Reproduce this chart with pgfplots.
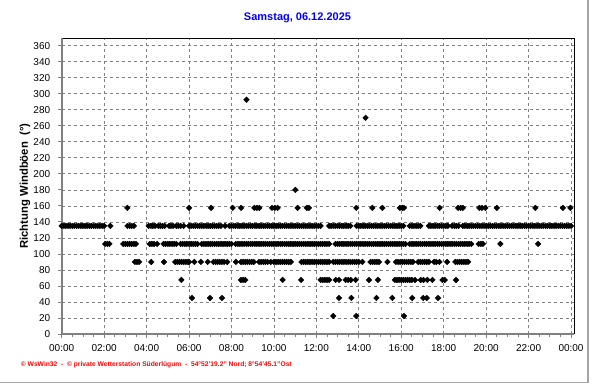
\documentclass[border=0pt]{standalone}
\usepackage{fontspec}
\setmainfont{Liberation Sans}
\usepackage{pgfplots}
\pgfplotsset{compat=1.18}
\definecolor{gridgray}{RGB}{128,128,128}
\definecolor{titleblue}{RGB}{0,0,255}
\pgfplotsset{wpt/.style={black, only marks, mark=square*, mark size=2pt, mark options={rotate=45, fill=black, draw=black}}}
\begin{document}
\begin{tikzpicture}
\useasboundingbox (-61.7pt,-50pt) rectangle (530.3pt,334pt);
\begin{axis}[
  at={(0,0)}, anchor=south west,
  scale only axis, width=512.6pt, height=295.7pt,
  xmin=0, xmax=24.155, ymin=0, ymax=369.25,
  clip=false,
  axis line style={draw=none},
  xtick={0,2,...,24},
  xticklabels={00:00,02:00,04:00,06:00,08:00,10:00,12:00,14:00,16:00,18:00,20:00,22:00,00:00},
  minor x tick num=3,
  ytick={0,20,...,360},
  xtick pos=bottom, ytick pos=left,
  tick align=outside,
  major tick length=4pt, minor tick length=3pt,
  tick style={gridgray, line width=0.8pt},
  grid=major,
  grid style={gridgray, line width=0.7pt, dash pattern=on 3pt off 3pt},
  /pgf/number format/assume math mode=true,
  ticklabel style={font=\fontsize{10}{12}\selectfont},
  xticklabel style={yshift=-3pt},
  yticklabel style={xshift=-4pt},
  title={Samstag, 06.12.2025},
  title style={at={(axis description cs:0.46,1)}, anchor=center, yshift=14.3pt, font=\fontsize{11}{13}\selectfont\bfseries, text=titleblue},
  ylabel={Richtung Windböen\ \ (°)},
  ylabel style={at={(axis description cs:-0.0716,0.5)}, anchor=center, font=\fontsize{11.3}{13}\selectfont\bfseries},
]
% 135
\addplot[wpt] coordinates {(0,135)(0.1,135)(0.2,135)(0.3,135)(0.4,135)(0.5,135)(0.6,135)(0.7,135)(0.8,135)(0.9,135)(1.0,135)(1.1,135)(1.2,135)(1.3,135)(1.4,135)(1.5,135)(1.6,135)(1.7,135)(1.8,135)(1.9,135)(2.0,135)
(2.29,135)(3.1,135)(3.2,135)(3.3,135)(3.4,135)
(4.1,135)(4.2,135)(4.3,135)(4.4,135)(4.55,135)(4.65,135)(4.75,135)(4.85,135)
(5.06,135)(5.15,135)(5.25,135)(5.4,135)(5.5,135)(5.6,135)(5.75,135)
(6.0,135)(6.1,135)(6.2,135)(6.3,135)(6.4,135)(6.5,135)(6.6,135)(6.7,135)(6.8,135)(6.9,135)(7.0,135)(7.1,135)(7.2,135)(7.3,135)(7.4,135)(7.5,135)(7.7,135)
(7.9,135)(8.0,135)(8.1,135)(8.2,135)(8.3,135)(8.4,135)(8.5,135)(8.6,135)(8.7,135)(8.8,135)(8.9,135)(9.0,135)(9.1,135)(9.2,135)(9.3,135)(9.4,135)(9.5,135)(9.6,135)(9.7,135)(9.8,135)(9.9,135)
(10.0,135)(10.1,135)(10.2,135)(10.3,135)(10.4,135)(10.5,135)(10.6,135)(10.7,135)(10.8,135)(10.9,135)(11.0,135)(11.1,135)(11.2,135)(11.3,135)(11.4,135)(11.5,135)(11.6,135)(11.7,135)(11.8,135)(11.9,135)(12.0,135)(12.1,135)(12.2,135)
(12.6,135)(12.7,135)(12.8,135)(12.9,135)(13.0,135)(13.1,135)(13.2,135)(13.3,135)(13.4,135)(13.5,135)(13.6,135)
(13.9,135)(14.0,135)(14.1,135)(14.2,135)(14.3,135)(14.4,135)(14.5,135)(14.6,135)(14.7,135)(14.8,135)(14.9,135)(15.0,135)(15.1,135)(15.2,135)(15.3,135)(15.4,135)(15.5,135)(15.6,135)(15.7,135)(15.8,135)(15.9,135)(16.0,135)(16.1,135)
(16.4,135)(16.5,135)(16.6,135)(16.7,135)(16.8,135)(16.9,135)
(17.3,135)(17.4,135)(17.5,135)(17.6,135)(17.7,135)(17.8,135)(17.9,135)(18.0,135)(18.1,135)(18.2,135)
(18.4,135)(18.5,135)(18.6,135)(18.7,135)
(18.9,135)(19.0,135)(19.1,135)(19.2,135)(19.3,135)(19.4,135)(19.5,135)(19.6,135)(19.7,135)(19.8,135)(19.9,135)(20.0,135)(20.1,135)(20.2,135)(20.3,135)(20.4,135)(20.5,135)(20.6,135)(20.7,135)(20.8,135)(20.9,135)(21.0,135)(21.1,135)(21.2,135)(21.3,135)(21.4,135)(21.5,135)(21.6,135)(21.7,135)(21.8,135)(21.9,135)(22.0,135)(22.1,135)(22.2,135)(22.3,135)(22.4,135)(22.5,135)(22.6,135)(22.7,135)(22.8,135)(22.9,135)(23.0,135)(23.1,135)(23.2,135)(23.3,135)(23.4,135)(23.5,135)(23.6,135)(23.7,135)(23.8,135)(23.9,135)(24.0,135)};
% 157.5
\addplot[wpt] coordinates {(3.09,157.5)(6.0,157.5)(7.04,157.5)(8.06,157.5)(8.45,157.5)(9.08,157.5)(9.2,157.5)(9.31,157.5)(9.91,157.5)(10.05,157.5)(10.18,157.5)(11.12,157.5)(11.55,157.5)(11.65,157.5)(13.88,157.5)(14.64,157.5)(15.11,157.5)(15.94,157.5)(16.05,157.5)(16.13,157.5)(17.81,157.5)(18.68,157.5)(18.8,157.5)(18.9,157.5)(19.68,157.5)(19.8,157.5)(19.96,157.5)(20.51,157.5)(22.32,157.5)(23.62,157.5)(23.97,157.5)};
% 180, 270, 292.5
\addplot[wpt] coordinates {(11.01,180)(14.32,270)(8.71,292.5)};
% 112.5
\addplot[wpt] coordinates {(2.05,112.5)(2.15,112.5)(2.25,112.5)
(2.9,112.5)(3.0,112.5)(3.1,112.5)(3.2,112.5)(3.3,112.5)(3.4,112.5)(3.5,112.5)
(4.15,112.5)(4.25,112.5)(4.35,112.5)(4.5,112.5)
(4.8,112.5)(4.9,112.5)(5.0,112.5)(5.1,112.5)(5.2,112.5)(5.3,112.5)(5.4,112.5)
(5.6,112.5)(5.7,112.5)(5.8,112.5)(5.9,112.5)(6.0,112.5)(6.1,112.5)(6.2,112.5)(6.3,112.5)(6.4,112.5)
(6.6,112.5)(6.7,112.5)(6.8,112.5)(6.9,112.5)(7.0,112.5)(7.1,112.5)(7.2,112.5)(7.3,112.5)(7.4,112.5)(7.5,112.5)(7.6,112.5)(7.7,112.5)(7.8,112.5)(7.9,112.5)(8.0,112.5)
(8.2,112.5)(8.3,112.5)(8.4,112.5)(8.5,112.5)(8.6,112.5)(8.7,112.5)(8.8,112.5)(8.9,112.5)(9.0,112.5)(9.1,112.5)(9.2,112.5)(9.3,112.5)(9.4,112.5)(9.5,112.5)(9.6,112.5)(9.7,112.5)(9.8,112.5)(9.9,112.5)
(10.0,112.5)(10.1,112.5)(10.2,112.5)(10.3,112.5)(10.4,112.5)(10.5,112.5)(10.6,112.5)(10.7,112.5)(10.8,112.5)(10.9,112.5)(11.0,112.5)(11.1,112.5)(11.2,112.5)(11.3,112.5)(11.4,112.5)(11.5,112.5)(11.6,112.5)(11.7,112.5)(11.8,112.5)(11.9,112.5)(12.0,112.5)(12.1,112.5)(12.2,112.5)(12.3,112.5)(12.4,112.5)(12.5,112.5)(12.6,112.5)
(12.9,112.5)(13.0,112.5)(13.1,112.5)(13.2,112.5)(13.3,112.5)(13.4,112.5)(13.5,112.5)(13.6,112.5)(13.7,112.5)(13.8,112.5)(13.9,112.5)(14.0,112.5)(14.1,112.5)(14.2,112.5)(14.3,112.5)(14.4,112.5)(14.5,112.5)(14.6,112.5)(14.7,112.5)(14.8,112.5)(14.9,112.5)(15.0,112.5)(15.1,112.5)(15.2,112.5)(15.3,112.5)(15.4,112.5)(15.5,112.5)(15.6,112.5)(15.7,112.5)(15.8,112.5)(15.9,112.5)(16.0,112.5)(16.1,112.5)(16.2,112.5)
(16.4,112.5)(16.5,112.5)(16.6,112.5)(16.7,112.5)(16.8,112.5)(16.9,112.5)(17.0,112.5)(17.1,112.5)(17.2,112.5)(17.3,112.5)(17.4,112.5)(17.5,112.5)(17.6,112.5)(17.7,112.5)(17.8,112.5)(17.9,112.5)(18.0,112.5)(18.1,112.5)(18.2,112.5)(18.3,112.5)(18.4,112.5)(18.5,112.5)(18.6,112.5)(18.7,112.5)(18.8,112.5)(18.9,112.5)(19.0,112.5)(19.1,112.5)(19.2,112.5)(19.3,112.5)
(19.65,112.5)(19.75,112.5)(19.85,112.5)(20.67,112.5)(22.45,112.5)};
% 90
\addplot[wpt] coordinates {(3.45,90)(3.55,90)(3.65,90)(4.22,90)(4.82,90)
(5.35,90)(5.45,90)(5.55,90)(5.65,90)(5.75,90)(5.85,90)(5.95,90)(6.0,90)(6.25,90)(6.56,90)(6.88,90)
(7.15,90)(7.25,90)(7.35,90)(7.45,90)(7.55,90)(7.65,90)(7.8,90)(8.21,90)
(8.45,90)(8.55,90)(8.65,90)(8.75,90)(8.85,90)(8.95,90)(9.05,90)
(9.3,90)(9.4,90)(9.5,90)(9.6,90)(9.7,90)(9.85,90)
(10.0,90)(10.1,90)(10.2,90)(10.3,90)(10.4,90)(10.5,90)(10.6,90)(10.7,90)(10.8,90)
(11.3,90)(11.4,90)(11.5,90)(11.6,90)(11.7,90)(11.8,90)(11.9,90)(12.0,90)(12.1,90)(12.2,90)(12.3,90)(12.4,90)(12.5,90)(12.6,90)
(12.8,90)(12.9,90)(13.0,90)(13.1,90)(13.2,90)(13.3,90)(13.4,90)(13.5,90)(13.6,90)(13.7,90)(13.8,90)(13.9,90)(14.0,90)(14.17,90)
(14.55,90)(14.65,90)(14.75,90)(14.85,90)(14.95,90)(15.35,90)
(15.75,90)(15.85,90)(15.95,90)(16.05,90)(16.15,90)(16.25,90)(16.35,90)(16.45,90)(16.55,90)
(16.8,90)(16.9,90)(17.0,90)(17.1,90)(17.2,90)(17.3,90)(17.55,90)(17.65,90)(17.8,90)(18.16,90)
(18.55,90)(18.65,90)(18.75,90)(18.85,90)(18.95,90)(19.05,90)(19.15,90)};
% 67.5
\addplot[wpt] coordinates {(5.64,67.5)(8.45,67.5)(8.55,67.5)(8.65,67.5)(10.41,67.5)(11.28,67.5)
(12.2,67.5)(12.3,67.5)(12.4,67.5)(12.5,67.5)(12.6,67.5)(12.91,67.5)(13.07,67.5)
(13.38,67.5)(13.5,67.5)(13.62,67.5)(13.85,67.5)(14.48,67.5)(14.9,67.5)
(15.7,67.5)(15.8,67.5)(15.9,67.5)(16.0,67.5)(16.1,67.5)(16.2,67.5)(16.3,67.5)(16.4,67.5)(16.5,67.5)(16.65,67.5)
(16.92,67.5)(17.05,67.5)(17.23,67.5)(17.47,67.5)(17.94,67.5)(18.05,67.5)(18.58,67.5)};
% 45
\addplot[wpt] coordinates {(6.14,45)(6.99,45)(7.55,45)(13.07,45)(13.65,45)(14.83,45)(15.58,45)(16.52,45)(17.04,45)(17.2,45)(17.73,45)};
% 22.5
\addplot[wpt] coordinates {(12.8,22.5)(13.88,22.5)(16.13,22.5)};
% frame
\draw[black, line width=1pt] (rel axis cs:0,1) -- (rel axis cs:1,1) -- (rel axis cs:1,0);
\draw[gridgray, line width=1.8pt] (rel axis cs:0,1) -- (rel axis cs:0,0) -- (rel axis cs:1,0);
\end{axis}
\node[anchor=west, text=red, font=\fontsize{6.7}{7}\selectfont\bfseries, inner sep=0pt] at (-41pt,-30.3pt) {© WsWin32 \ - \ © private Wetterstation Süderlügum \ - \ 54°52'19.2" Nord; 8°54'45.1"Ost};
\draw[black!35, line width=1.2pt] (526.3pt,334pt) -- (526.3pt,-48.7pt) -- (-61.7pt,-48.7pt);
\end{tikzpicture}
\end{document}
